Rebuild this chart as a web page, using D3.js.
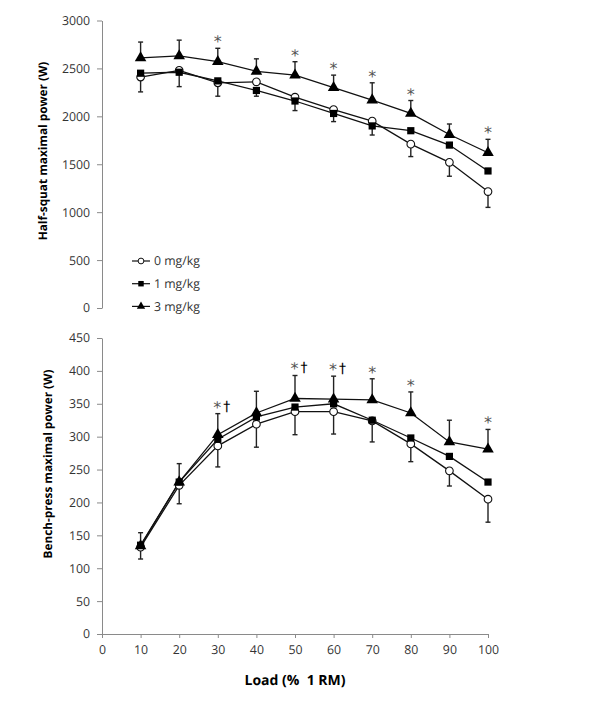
<!DOCTYPE html>
<html>
<head>
<meta charset="utf-8">
<script src="https://cdn.jsdelivr.net/npm/d3@7"></script>
<style>
  html, body { margin: 0; padding: 0; background: #fff; }
  svg { display: block; font-family: "Open Sans", sans-serif; text-rendering: geometricPrecision; }
</style>
</head>
<body>
<svg id="chart" width="600" height="705"></svg>
<script>
// ---------- data ----------
const loads = [10, 20, 30, 40, 50, 60, 70, 80, 90, 100];
const xTicks = [0, 10, 20, 30, 40, 50, 60, 70, 80, 90, 100];
const seriesNames = ["0 mg/kg", "1 mg/kg", "3 mg/kg"];

// Half-squat maximal power (W)
const squat0 = [2410, 2480, 2350, 2360, 2200, 2070, 1950, 1710, 1520, 1215];
const squat1 = [2450, 2460, 2370, 2270, 2160, 2030, 1900, 1850, 1700, 1430];
const squat3 = [2610, 2630, 2570, 2470, 2430, 2300, 2170, 2030, 1810, 1620];
const squat0Err = [155, null, 140, null, null, null, null, 130, 145, 165];   // drawn downward
const squat1Err = [null, 150, null, 60, 100, 85, 95, null, null, null];      // drawn downward
const squat3Err = [165, 165, 140, 130, 140, 130, 180, 135, 110, 140];        // drawn upward
const squatStar = [false, false, true, false, true, true, true, true, false, true];
const squatDagger = [false, false, false, false, false, false, false, false, false, false];
const squatTicks = [0, 500, 1000, 1500, 2000, 2500, 3000];

// Bench-press maximal power (W)
const bench0 = [132, 226, 286, 319, 338, 338, 324, 289, 248, 205];
const bench1 = [135, 231, 296, 330, 345, 350, 325, 298, 270, 231];
const bench3 = [134, 231, 303, 336, 358, 357, 356, 336, 292, 281];
const bench0Err = [18, 28, 32, 35, 35, 34, 32, 27, 23, 35];   // drawn downward
const bench3Err = [20, 28, 32, 33, 35, 35, 32, 32, 33, 30];   // drawn upward
const benchStar = [false, false, true, false, true, true, true, true, false, true];
const benchDagger = [false, false, true, false, true, true, false, false, false, false];
const benchTicks = [0, 50, 100, 150, 200, 250, 300, 350, 400, 450];

// ---------- layout ----------
const svg = d3.select("#chart");
const axisColor = "#8a8a8a";
const textColor = "#333";

const x = d3.scaleLinear().domain([0, 100]).range([102, 488]);
const yTop = d3.scaleLinear().domain([0, 3000]).range([308, 20.5]);
const yBot = d3.scaleLinear().domain([0, 450]).range([634, 338]);

function drawYAxis(y, ticks) {
  const g = svg.append("g").attr("transform", `translate(${x(0)},0)`)
    .call(d3.axisLeft(y).tickValues(ticks).tickSize(5).tickSizeOuter(0).tickFormat(d3.format("d")));
  g.select(".domain").attr("stroke", axisColor);
  g.selectAll(".tick line").attr("stroke", axisColor);
  g.selectAll(".tick text").attr("fill", textColor).attr("font-size", 12.3)
    .attr("font-family", "Open Sans").attr("x", -12);
  return g;
}

function drawSeries(y, data) {
  const line = d3.line().x((d, i) => x(loads[i])).y(d => y(d));
  svg.append("path").datum(data).attr("d", line)
    .attr("fill", "none").attr("stroke", "#111").attr("stroke-width", 1.3);
}

function drawErrors(y, data, err, dir) {
  const g = svg.append("g");
  loads.forEach((l, i) => {
    if (err[i] == null) return;
    const y0 = y(data[i]);
    const y1 = y(data[i] + dir * err[i]);
    g.append("line").attr("x1", x(l)).attr("x2", x(l)).attr("y1", y0).attr("y2", y1)
      .attr("stroke", "#222").attr("stroke-width", 1.4);
    g.append("line").attr("x1", x(l) - 2.5).attr("x2", x(l) + 2.5).attr("y1", y1).attr("y2", y1)
      .attr("stroke", "#222").attr("stroke-width", 1.4);
  });
}

const symCircle = d3.symbol().type(d3.symbolCircle).size(46);
const symSquare = d3.symbol().type(d3.symbolSquare).size(52);
const symTri = d3.symbol().type(d3.symbolTriangle).size(58);

function drawMarkers(y, data, kind) {
  const g = svg.append("g");
  data.forEach((v, i) => {
    const p = g.append("path").attr("transform", `translate(${x(loads[i])},${y(v)})`);
    if (kind === 0) p.attr("d", symCircle()).attr("fill", "#fff").attr("stroke", "#111").attr("stroke-width", 1.1);
    if (kind === 1) p.attr("d", symSquare()).attr("fill", "#000");
    if (kind === 2) p.attr("d", symTri()).attr("fill", "#000");
  });
}

function drawMarks(y, data, err, stars, daggers) {
  loads.forEach((l, i) => {
    if (!stars[i]) return;
    const t = svg.append("text").attr("x", x(l) + (daggers[i] ? 4 : 0)).attr("y", y(data[i] + err[i]) - 1)
      .attr("text-anchor", "middle").attr("font-size", 16).attr("font-family", "DejaVu Sans");
    t.append("tspan").attr("fill", "#555").text("*");
    if (daggers[i]) t.append("tspan").attr("fill", "#000").attr("dx", 2).attr("dy", -2)
      .attr("font-size", 14).text("\u2020");
  });
}

// ---------- top panel ----------
drawYAxis(yTop, squatTicks);
drawSeries(yTop, squat0);
drawSeries(yTop, squat1);
drawSeries(yTop, squat3);
drawErrors(yTop, squat3, squat3Err, 1);
drawErrors(yTop, squat1, squat1Err, -1);
drawErrors(yTop, squat0, squat0Err, -1);
drawMarkers(yTop, squat0, 0);
drawMarkers(yTop, squat1, 1);
drawMarkers(yTop, squat3, 2);
drawMarks(yTop, squat3, squat3Err, squatStar, squatDagger);

svg.append("text").attr("transform", "translate(47,151) rotate(-90)")
  .attr("text-anchor", "middle").attr("font-weight", "bold").attr("font-size", 11.8)
  .attr("fill", "#000").text("Half-squat maximal power (W)");

// legend
const legend = svg.append("g");
seriesNames.forEach((name, i) => {
  const ly = 261 + i * 22.7;
  legend.append("line").attr("x1", 132).attr("x2", 150).attr("y1", ly).attr("y2", ly)
    .attr("stroke", "#111").attr("stroke-width", 1.2);
  const p = legend.append("path").attr("transform", `translate(141,${ly})`);
  if (i === 0) p.attr("d", d3.symbol().type(d3.symbolCircle).size(26)()).attr("fill", "#fff").attr("stroke", "#111").attr("stroke-width", 1);
  if (i === 1) p.attr("d", d3.symbol().type(d3.symbolSquare).size(30)()).attr("fill", "#000");
  if (i === 2) p.attr("d", d3.symbol().type(d3.symbolTriangle).size(30)()).attr("fill", "#000");
  legend.append("text").attr("x", 154).attr("y", ly + 4.3).attr("font-size", 12.3)
    .attr("fill", textColor).text(name);
});

// ---------- bottom panel ----------
drawYAxis(yBot, benchTicks);
const xg = svg.append("g").attr("transform", `translate(0,${yBot(0)})`)
  .call(d3.axisBottom(x).tickValues(xTicks).tickSize(4).tickSizeOuter(0).tickFormat(d3.format("d")));
xg.select(".domain").attr("stroke", axisColor);
xg.selectAll(".tick line").attr("stroke", axisColor);
xg.selectAll(".tick text").attr("fill", textColor).attr("font-size", 12.3)
  .attr("font-family", "Open Sans").attr("y", 11);

drawSeries(yBot, bench0);
drawSeries(yBot, bench1);
drawSeries(yBot, bench3);
drawErrors(yBot, bench3, bench3Err, 1);
drawErrors(yBot, bench0, bench0Err, -1);
drawMarkers(yBot, bench0, 0);
drawMarkers(yBot, bench1, 1);
drawMarkers(yBot, bench3, 2);
drawMarks(yBot, bench3, bench3Err, benchStar, benchDagger);

svg.append("text").attr("transform", "translate(52,464) rotate(-90)")
  .attr("text-anchor", "middle").attr("font-weight", "bold").attr("font-size", 11.8)
  .attr("fill", "#000").text("Bench-press maximal power (W)");

svg.append("text").attr("x", 295).attr("y", 685).attr("text-anchor", "middle")
  .attr("font-weight", "bold").attr("font-size", 14).attr("fill", "#000")
  .attr("xml:space", "preserve").style("white-space", "pre").text("Load (%  1 RM)");
</script>
</body>
</html>
